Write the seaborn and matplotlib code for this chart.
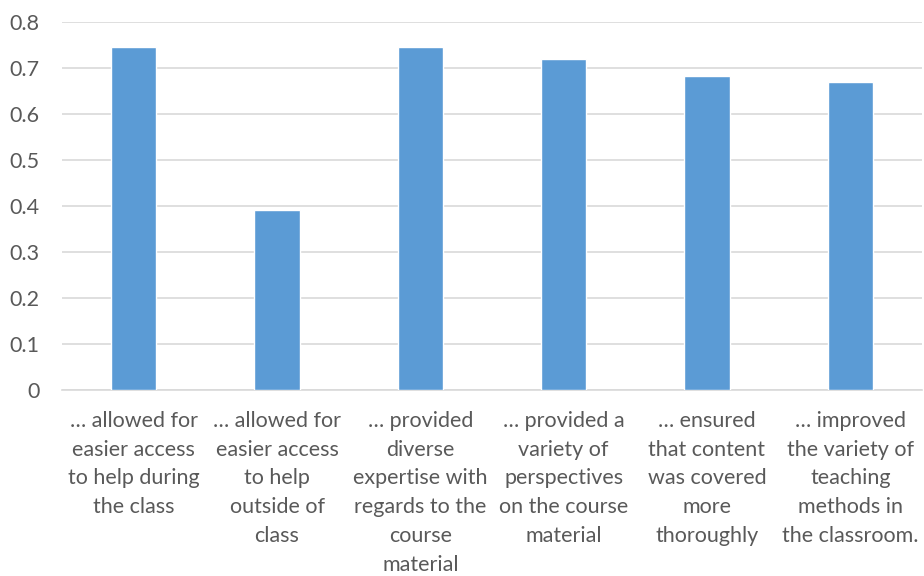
import matplotlib
matplotlib.use("Agg")
import matplotlib.pyplot as plt
import seaborn as sns
import pandas as pd

categories = [
    "… allowed for\neasier access\nto help during\nthe class",
    "… allowed for\neasier access\nto help\noutside of\nclass",
    "… provided\ndiverse\nexpertise with\nregards to the\ncourse\nmaterial",
    "… provided a\nvariety of\nperspectives\non the course\nmaterial",
    "… ensured\nthat content\nwas covered\nmore\nthoroughly",
    "… improved\nthe variety of\nteaching\nmethods in\nthe classroom.",
]
values = [0.746, 0.391, 0.746, 0.720, 0.683, 0.670]
yticks = [0, 0.1, 0.2, 0.3, 0.4, 0.5, 0.6, 0.7, 0.8]
ytick_labels = ["0", "0.1", "0.2", "0.3", "0.4", "0.5", "0.6", "0.7", "0.8"]

sns.set_theme(style="white")
plt.rcParams['font.family'] = ['Lato', 'DejaVu Sans']

df = pd.DataFrame({"cat": categories, "val": values})
fig = plt.figure(figsize=(9.24, 5.76), dpi=100)
ax = fig.add_axes([62/924, 1-390/576, 860/924, 368/576])
sns.barplot(data=df, x="cat", y="val", color="#5B9BD5", width=0.314,
            saturation=1, ax=ax, zorder=3)
ax.set_ylim(0, 0.8)
ax.set_yticks(yticks)
ax.set_yticklabels(ytick_labels)
ax.yaxis.grid(True, color="#D9D9D9", linewidth=1.2, zorder=0)
ax.set_axisbelow(True)
for s in ["top", "right", "left"]:
    ax.spines[s].set_visible(False)
ax.spines["bottom"].set_color("#D9D9D9")
ax.spines["bottom"].set_linewidth(1.2)
ax.set_xlabel("")
ax.set_ylabel("")
ax.tick_params(axis="both", length=0, colors="#595959", labelsize=15.5)
ax.tick_params(axis="x", pad=15)
ax.tick_params(axis="y", pad=16)
for lbl in ax.get_xticklabels():
    lbl.set_linespacing(1.55)
    lbl.set_horizontalalignment("center")
fig.savefig("out.png", dpi=100)
